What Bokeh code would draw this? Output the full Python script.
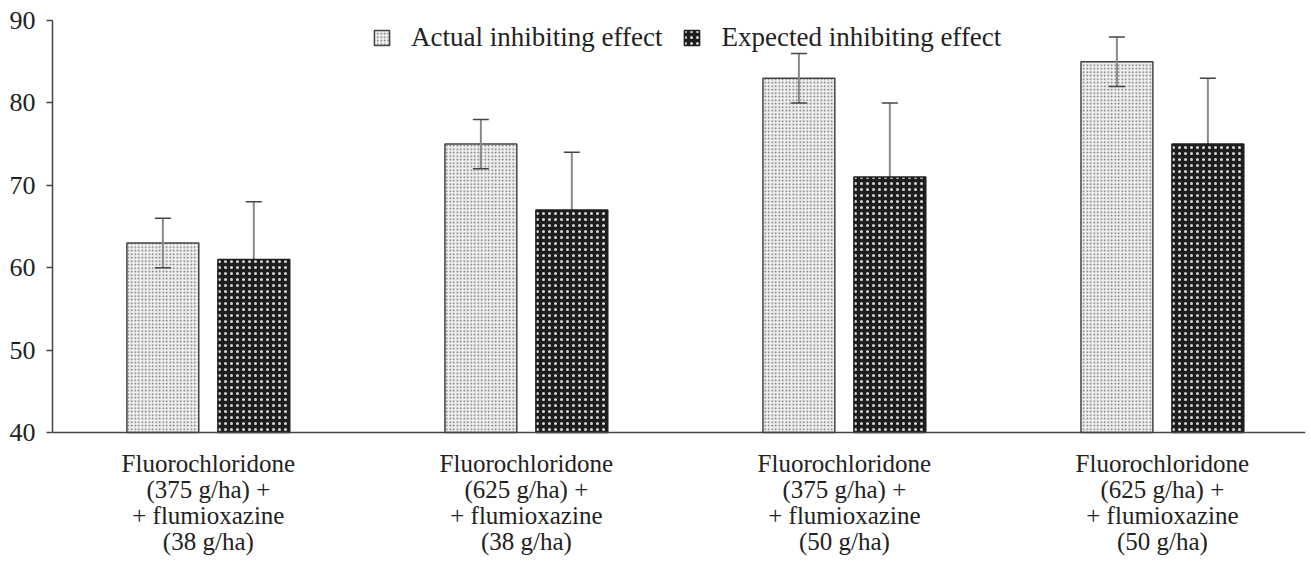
from bokeh.plotting import figure
from bokeh.models import Range1d, FixedTicker, Whisker, ColumnDataSource, TeeHead, Legend, LegendItem, Span
from bokeh.core.properties import value
from bokeh.embed import file_html
from bokeh.resources import INLINE

category_lines = [
    ["Fluorochloridone", "(375 g/ha) +", "+ flumioxazine", "(38 g/ha)"],
    ["Fluorochloridone", "(625 g/ha) +", "+ flumioxazine", "(38 g/ha)"],
    ["Fluorochloridone", "(375 g/ha) +", "+ flumioxazine", "(50 g/ha)"],
    ["Fluorochloridone", "(625 g/ha) +", "+ flumioxazine", "(50 g/ha)"],
]
actual = [63, 75, 83, 85]
actual_err = [3, 3, 3, 3]
expected = [61, 67, 71, 75]
expected_err = [7, 7, 9, 8]
series_names = ["Actual inhibiting effect", "Expected inhibiting effect"]
y_ticks = [40, 50, 60, 70, 80, 90]
y_min, y_max = 40, 90

FONT = "Liberation Serif"
W, H = 1311, 561
TOP, AXIS_Y = 20, 432          # pixel rows of y=90 and y=40
idx = list(range(len(category_lines)))
off = 0.143
bw = 0.226

# extend the y range below 40 so the category texts fit inside the frame
y_start = y_max - (y_max - y_min) * (H - TOP) / (AXIS_Y - TOP)

src_a = ColumnDataSource(dict(
    x=[i - off for i in idx], top=actual,
    lo=[v - e for v, e in zip(actual, actual_err)],
    hi=[v + e for v, e in zip(actual, actual_err)]))
src_e = ColumnDataSource(dict(
    x=[i + off for i in idx], top=expected,
    lo=[v - e for v, e in zip(expected, expected_err)],
    hi=[v + e for v, e in zip(expected, expected_err)]))

p = figure(width=W, height=H, output_backend="svg", toolbar_location=None,
           x_range=Range1d(-0.49, 3.45), y_range=Range1d(y_start, y_max),
           min_border_left=52, min_border_top=TOP, min_border_bottom=0, min_border_right=6)
p.outline_line_color = None
p.grid.visible = False
p.xaxis.visible = False
p.background_fill_color = "white"

ra = p.vbar(x="x", top="top", bottom=y_min, width=bw, source=src_a,
            fill_color="#f0f0f0", line_color="#444444", line_width=1.5,
            hatch_pattern="dot", hatch_color="#6a6a6a", hatch_scale=3.5, hatch_weight=1.2)
re_ = p.vbar(x="x", top="top", bottom=y_min, width=bw, source=src_e,
             fill_color="#1e1e1e", line_color="#1e1e1e", line_width=1.5,
             hatch_pattern="dot", hatch_color="#d8d8d8", hatch_scale=6, hatch_weight=1.5)

for src, lvl in ((src_a, "overlay"), (src_e, "underlay")):
    w = Whisker(base="x", upper="hi", lower="lo", source=src, level=lvl,
                line_color="#8a8a8a", line_width=2,
                upper_head=TeeHead(size=16, line_color="#444444", line_width=1.5),
                lower_head=TeeHead(size=16, line_color="#444444", line_width=1.5))
    p.add_layout(w)

# x axis line at y = 40
p.add_layout(Span(location=y_min, dimension="width", line_color="#444444", line_width=1.5))

legend = Legend(items=[LegendItem(label=series_names[0], renderers=[ra]),
                       LegendItem(label=series_names[1], renderers=[re_])],
                orientation="horizontal", location=(320, 508),
                border_line_color=None, background_fill_alpha=0,
                label_text_font=FONT, label_text_font_size="27px", label_text_color="#222222",
                glyph_width=19, glyph_height=19, spacing=20, padding=0, margin=0,
                label_standoff=20)
p.add_layout(legend, "center")

# category labels under the axis (one text glyph per line)
for k in range(4):
    p.text(x=idx, y=[y_min] * len(idx), text=[c[k] for c in category_lines],
           y_offset=31 + 26 * k, text_font=value(FONT), text_font_size="25px",
           text_color="#222222", text_align="center", text_baseline="alphabetic")

p.yaxis.ticker = FixedTicker(ticks=y_ticks)
p.yaxis.bounds = (y_min, y_max)
p.yaxis.axis_line_color = "#444444"
p.yaxis.axis_line_width = 1.5
p.yaxis.major_label_text_font = FONT
p.yaxis.major_label_text_color = "#222222"
p.yaxis.minor_tick_line_color = None
p.yaxis.major_label_text_font_size = "26px"
p.yaxis.major_tick_line_color = "#444444"
p.yaxis.major_tick_line_width = 1.5
p.yaxis.major_tick_out = 6
p.yaxis.major_tick_in = 0
p.yaxis.major_label_standoff = 11

open("out.html", "w").write(file_html(p, INLINE))
